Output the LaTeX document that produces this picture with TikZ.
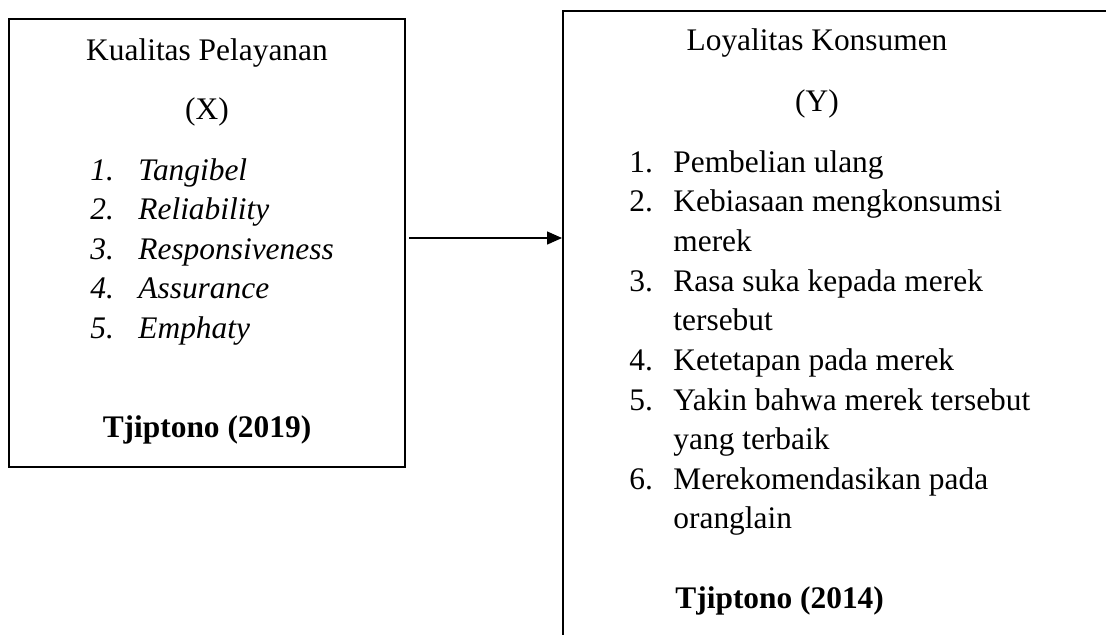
\documentclass[tikz,border=0pt]{standalone}
\usepackage{fontspec}
\setmainfont{Liberation Serif}
\usetikzlibrary{arrows.meta}
\tikzset{
    txt/.style={anchor=base west, inner sep=0pt, font=\fontsize{15.7}{19}\selectfont},
    ttl/.style={anchor=base, inner sep=0pt, font=\fontsize{15.7}{19}\selectfont},
    box/.style={draw, line width=1pt, inner sep=0pt}
}
\begin{document}
\begin{tikzpicture}[x=0.5pt,y=-0.5pt]
    \clip (0,0) rectangle (1106,634);
    \node[box, minimum width=198pt, minimum height=224pt] (kp) at (207,243) {};
    \node[box, minimum width=318.5pt, minimum height=344.5pt] (lk) at (881.5,355.5) {};
    \draw[line width=0.7pt, -{Triangle[length=7.5pt,width=6.5pt]}] ([yshift=2.5pt,xshift=1.5pt]kp.east) -- ([yshift=2.5pt]kp.east -| lk.west);
    \node[ttl] (kptitle) at (207,60) {Kualitas Pelayanan};
    \node[ttl] (kpvar) at (207,119) {(X)};
    \foreach \t [count=\i] in {Tangibel, Reliability, Responsiveness, Assurance, Emphaty}{
        \node[txt] (kpn\i) at (90,{180+39.5*(\i-1)}) {\textit{\i.}};
        \node[txt] (kpi\i) at (138,{180+39.5*(\i-1)}) {\textit{\t}};
    }
    \node[ttl] (kpsrc) at (207,437) {\textbf{Tjiptono (2019)}};
    \node[ttl] (lktitle) at (817,50) {Loyalitas Konsumen};
    \node[ttl] (lkvar) at (817,111) {(Y)};
    \node[txt] (lkn1) at (629,172) {1.};
    \node[txt] (lki1) at (673,172) {Pembelian ulang};
    \node[txt] (lkn2) at (629,211.6) {2.};
    \node[txt] (lki2) at (673,211.6) {Kebiasaan mengkonsumsi};
    \node[txt] (lki2b) at (673,251) {merek};
    \node[txt] (lkn3) at (629,291) {3.};
    \node[txt] (lki3) at (673,291) {Rasa suka kepada merek};
    \node[txt] (lki3b) at (673,330) {tersebut};
    \node[txt] (lkn4) at (629,370) {4.};
    \node[txt] (lki4) at (673,370) {Ketetapan pada merek};
    \node[txt] (lkn5) at (629,410) {5.};
    \node[txt] (lki5) at (673,410) {Yakin bahwa merek tersebut};
    \node[txt] (lki5b) at (673,449) {yang terbaik};
    \node[txt] (lkn6) at (629,489) {6.};
    \node[txt] (lki6) at (673,489) {Merekomendasikan pada};
    \node[txt] (lki6b) at (673,528) {oranglain};
    \node[txt] (lksrc) at (675,608) {\textbf{Tjiptono (2014)}};
\end{tikzpicture}
\end{document}
